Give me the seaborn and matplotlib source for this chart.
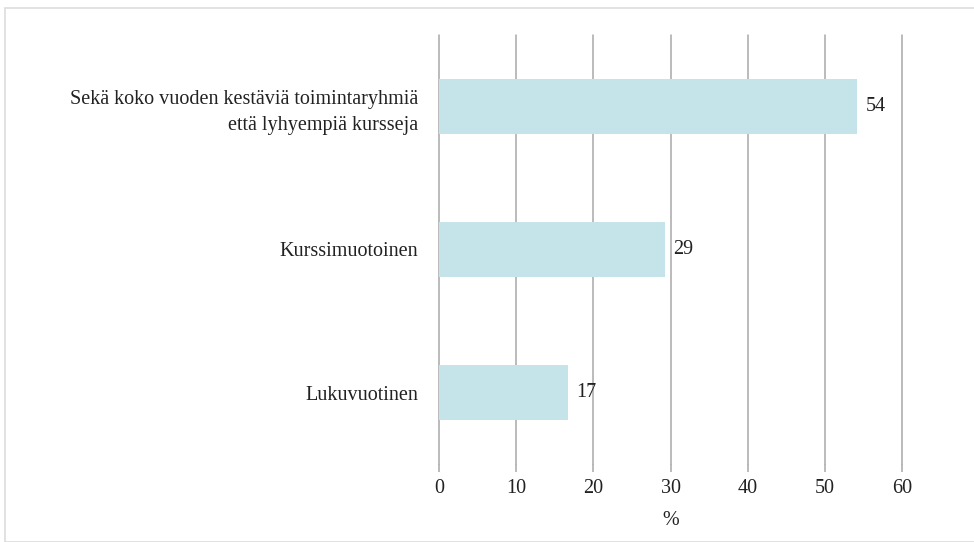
import matplotlib
matplotlib.use("Agg")
import matplotlib.pyplot as plt
import seaborn as sns
import pandas as pd

categories = ["Sekä koko vuoden kestäviä toimintaryhmiä\nettä lyhyempiä kursseja",
              "Kurssimuotoinen", "Lukuvuotinen"]
values = [54.2, 29.3, 16.7]
labels = ["54", "29", "17"]
xticks = [0, 10, 20, 30, 40, 50, 60]

sns.set_theme(style="white")
plt.rcParams['font.family'] = ['Liberation Serif', 'DejaVu Serif']

df = pd.DataFrame({"cat": categories, "val": values})

fig = plt.figure(figsize=(9.74, 5.42), dpi=100)
ax = fig.add_axes([439/974, 1-464/542, (902-439)/974, (464-35)/542])

sns.barplot(data=df, y="cat", x="val", orient="h", color="#c5e4ea",
            saturation=1, width=0.39, ax=ax, zorder=3, linewidth=0)

FS = 14.5
ax.set_xlim(0, 60)
ax.set_xticks(xticks)
ax.set_xticklabels([str(t) for t in xticks], fontsize=FS, color="#222222")
ax.xaxis.grid(True, color="#a8a8a8", linewidth=1.1, zorder=0)
for gl in ax.get_xgridlines():
    gl.set_clip_on(False)
ax.set_axisbelow(True)
ax.tick_params(axis="x", length=6, width=1.1, color="#a8a8a8", pad=5, bottom=True)
ax.tick_params(axis="y", length=0, pad=15, labelsize=FS, labelcolor="#222222")
for lbl in ax.get_yticklabels():
    lbl.set_horizontalalignment("right")
    lbl.set_linespacing(1.5)
for s in ax.spines.values():
    s.set_visible(False)
ax.set_ylabel("")
ax.set_xlabel("%", fontsize=FS, color="#222222", labelpad=9)

for i, (v, t) in enumerate(zip(values, labels)):
    ax.annotate(t, xy=(v, i), xytext=(6, 0), textcoords="offset points",
                va="center", ha="left", fontsize=FS, color="#222222")

# figure border
fig.patches.append(plt.Rectangle((5/974, 0), 1, 1-8/542, transform=fig.transFigure,
                                 fill=False, edgecolor="#dddddd", linewidth=1.2))

fig.savefig("out.png", dpi=100)
